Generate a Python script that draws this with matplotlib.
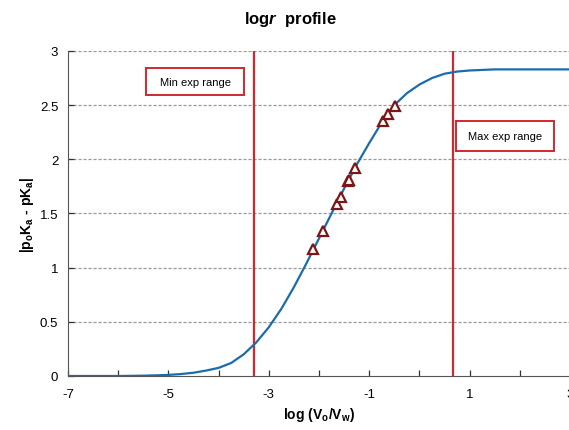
"""
logr profile - |poKa - pKa| vs log(Vo/Vw)
"""
import matplotlib
matplotlib.use("Agg")
import matplotlib.pyplot as plt
from matplotlib.patches import Rectangle

plt.rcParams["font.family"] = ["Liberation Sans", "DejaVu Sans"]
plt.rcParams["axes.unicode_minus"] = False
plt.rcParams["mathtext.fontset"] = "custom"
plt.rcParams["mathtext.rm"] = "Liberation Sans:bold"
plt.rcParams["mathtext.it"] = "Liberation Sans:italic:bold"
plt.rcParams["mathtext.bf"] = "Liberation Sans:bold"

# model curve
curve_x = [-7, -6, -5.5, -5.25, -5, -4.75, -4.5, -4.25, -4, -3.75, -3.5, -3.25,
           -3, -2.75, -2.5, -2.25, -2, -1.75, -1.5, -1.25, -1, -0.75, -0.5,
           -0.25, 0, 0.25, 0.5, 0.75, 1, 1.25, 1.5, 2, 3]
curve_y = [0.0, 0.0, 0.003, 0.006, 0.01, 0.018, 0.03, 0.05, 0.075, 0.12, 0.2,
           0.31, 0.45, 0.62, 0.82, 1.04, 1.27, 1.5, 1.73, 1.95, 2.15, 2.34,
           2.5, 2.61, 2.69, 2.75, 2.79, 2.81, 2.82, 2.825, 2.83, 2.83, 2.83]

# experimental points
exp_x = [-2.11, -1.93, -1.65, -1.57, -1.42, -1.40, -1.28, -0.72, -0.62, -0.49]
exp_y = [1.17, 1.34, 1.59, 1.65, 1.80, 1.81, 1.92, 2.35, 2.42, 2.49]

# experimental range limits
range_min = -3.3
range_max = 0.66

fig = plt.figure(figsize=(5.69, 4.31), dpi=100)
ax = fig.add_axes([0.1195, 0.1253, 0.8823, 0.7541])

for v in [0.5, 1, 1.5, 2, 2.5, 3]:
    ax.axhline(v, color="#9a9a9a", lw=0.9, ls=(0, (2.5, 1.5)), zorder=0)

ax.axvline(range_min, color="#d0282e", lw=1.6, zorder=2)
ax.axvline(range_max, color="#d0282e", lw=1.6, zorder=2)

ax.plot(curve_x, curve_y, color="#1a6cab", lw=1.6, zorder=3)
ax.plot(exp_x, exp_y, ls="none", marker="^", ms=7.5, mfc="white",
        mec="#7d1616", mew=1.6, zorder=4)

# label boxes (x0, y0, w, h in data units)
for (x0, y0, w, h), label in [((-5.45, 2.59, 1.96, 0.25), "Min exp range"),
                              ((0.73, 2.08, 1.96, 0.27), "Max exp range")]:
    ax.add_patch(Rectangle((x0, y0), w, h, fc="white", ec="#d0282e", lw=1.4,
                           zorder=5))
    ax.text(x0 + w / 2, y0 + h / 2, label, fontsize=8, ha="center",
            va="center", zorder=6)

ax.set_xlim(-7, 3)
ax.set_ylim(0, 3)
ax.set_xticks(range(-7, 4))
ax.set_xticklabels([str(t) if t % 2 else "" for t in range(-7, 4)])
ax.set_yticks([0, 0.5, 1, 1.5, 2, 2.5, 3])
ax.set_yticklabels(["0", "0.5", "1", "1.5", "2", "2.5", "3"])
ax.tick_params(direction="in", length=4, labelsize=9.5, width=0.9,
               colors="#333333", labelcolor="black", pad=7)
ax.tick_params(axis="x", pad=9)

for s in ["top", "right"]:
    ax.spines[s].set_visible(False)
ax.spines["left"].set_color("#555555")
ax.spines["bottom"].set_color("#555555")

fig.text(0.51, 0.955, r"log$\mathit{r}$  profile", fontsize=12,
         fontweight="bold", ha="center", va="center")
ax.set_xlabel(r"log (V$_\mathrm{o}$/V$_\mathrm{w}$)", fontsize=10,
              fontweight="bold", labelpad=3)
ax.set_ylabel(r"|p$_\mathrm{o}$K$_\mathrm{a}$ - pK$_\mathrm{a}$|", fontsize=10,
              fontweight="bold", labelpad=3)

fig.savefig("out.png", dpi=100)
